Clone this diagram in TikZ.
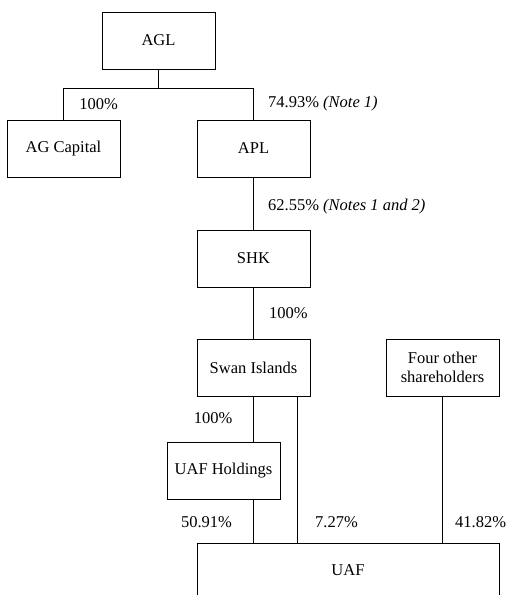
\documentclass[tikz,border=0pt]{standalone}
\usepackage{fontspec}
\setmainfont{Liberation Serif}
\begin{document}
\begin{tikzpicture}[x=1pt,y=-1pt,
  box/.style={draw, line width=0.8pt, minimum width=113pt, minimum height=57pt, inner sep=0pt, align=center, font=\fontsize{16.5}{19}\selectfont},
  pct/.style={inner sep=0pt, font=\fontsize{16.5}{19}\selectfont},
  conn/.style={line width=0.8pt}]
\useasboundingbox (0,0) rectangle (508,595);
\clip (0,0) rectangle (508,595);
\node[box] (AGL) at (158.5,40.5) {AGL};
\node[box] (AGC) at (63.5,148.5) {AG Capital};
\node[box] (APL) at (253.5,148.5) {APL};
\node[box] (SHK) at (253.5,258.5) {SHK};
\node[box] (SWAN) at (253.5,367.5) {Swan Islands};
\node[box] (FOUR) at (442.5,367.5) {Four other\\shareholders};
\node[box] (UAFH) at (223.5,470.5) {UAF Holdings};
\node[box, minimum width=302pt, minimum height=80pt, anchor=north] (UAF) at (348,543) {};
\node[pct] (UAFT) at (348,570) {UAF};
\coordinate (fork) at (158.5,88);
\coordinate (sw2) at ([xshift=44pt]SWAN.south);
% connectors
\draw[conn] (AGL.south) -- (fork);
\draw[conn] (fork) -| (AGC.north);
\draw[conn] (fork) -| (APL.north);
\draw[conn] (APL.south) -- (SHK.north);
\draw[conn] (SHK.south) -- (SWAN.north);
\draw[conn] (SWAN.south) -- (SWAN.south |- UAFH.north);
\draw[conn] (SWAN.south |- UAFH.south) -- (SWAN.south |- UAF.north);
\draw[conn] (sw2) -- (sw2 |- UAF.north);
\draw[conn] (FOUR.south) -- (FOUR.south |- UAF.north);
% labels
\node[pct] (l1) at (98.5,104) {100\%};
\node[pct, anchor=west] (l2) at (268,104) {74.93\% \textit{(Note 1)}};
\node[pct, anchor=west] (l3) at (268,207) {62.55\% \textit{(Notes 1 and 2)}};
\node[pct, anchor=west] (l4) at (269,313) {100\%};
\node[pct] (l5) at (213,418) {100\%};
\node[pct] (l6) at (206.5,522) {50.91\%};
\node[pct, anchor=west] (l7) at (315,522) {7.27\%};
\node[pct, anchor=west] (l8) at (455,522) {41.82\%};
\end{tikzpicture}
\end{document}
